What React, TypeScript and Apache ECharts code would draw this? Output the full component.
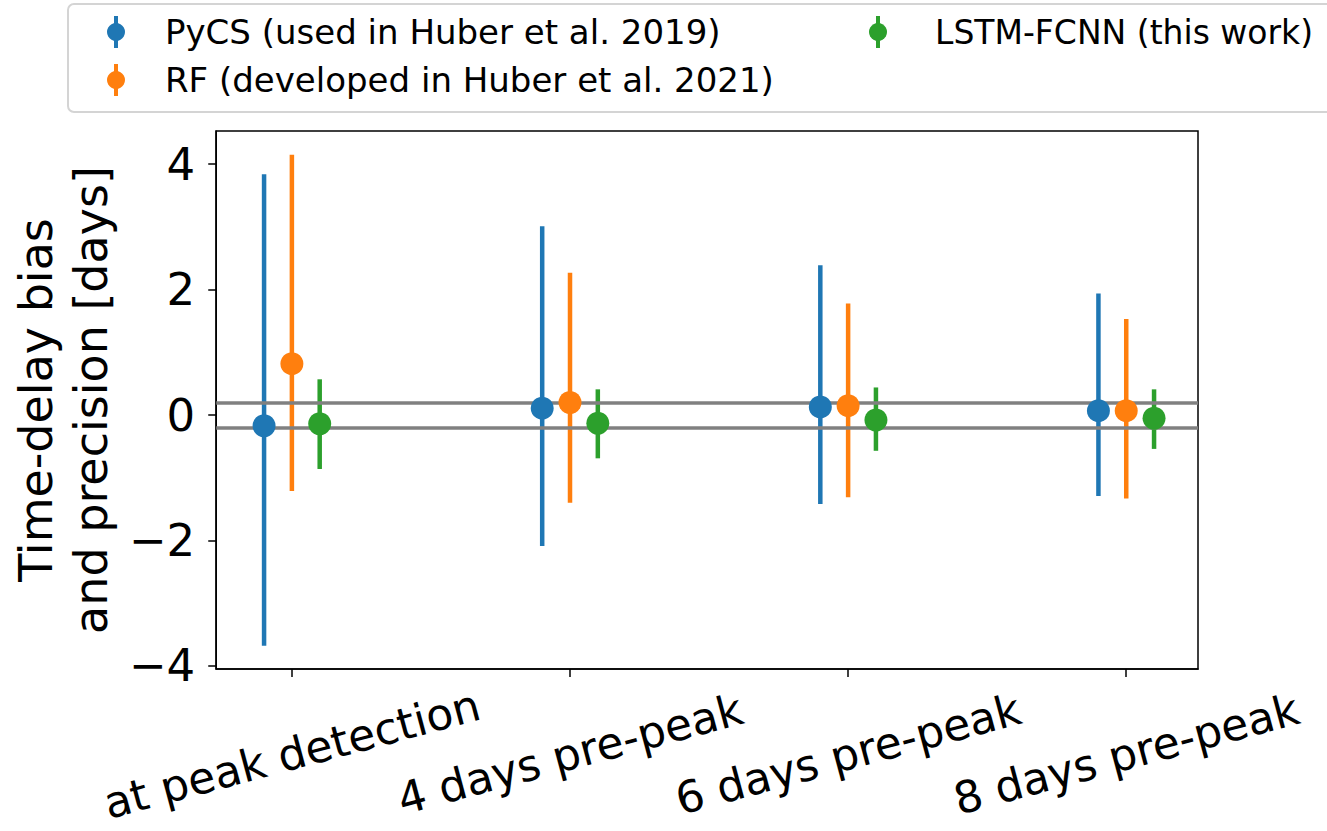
import React, { useEffect, useRef } from "react";
import * as echarts from "echarts";

const categories = ["at peak detection", "4 days pre-peak", "6 days pre-peak", "8 days pre-peak"];
const categoryPositions = [0, 1, 2, 3];

const pycsCenter = [-0.17, 0.11, 0.13, 0.07];
const pycsLow = [-3.68, -2.09, -1.42, -1.29];
const pycsHigh = [3.84, 3.01, 2.39, 1.94];

const rfCenter = [0.82, 0.2, 0.15, 0.07];
const rfLow = [-1.21, -1.4, -1.31, -1.33];
const rfHigh = [4.15, 2.27, 1.78, 1.53];

const lstmCenter = [-0.14, -0.13, -0.08, -0.05];
const lstmLow = [-0.86, -0.69, -0.57, -0.54];
const lstmHigh = [0.57, 0.41, 0.44, 0.41];

const methodNames = [
  "PyCS (used in Huber et al. 2019)",
  "RF (developed in Huber et al. 2021)",
  "LSTM-FCNN (this work)",
];
const methodColors = ["#1f77b4", "#ff7f0e", "#2ca02c"];
const methodOffsets = [-0.1, 0, 0.1];

const refLines = [0.2, -0.2];
const yTicks = [-4, -2, 0, 2, 4];

const FONT = "DejaVu Sans";

export default function App() {
  const ref = useRef<HTMLDivElement>(null);

  useEffect(() => {
    if (!ref.current) return;
    const chart = echarts.init(ref.current, null, { renderer: "svg" });

    const centers = [pycsCenter, rfCenter, lstmCenter];
    const lows = [pycsLow, rfLow, lstmLow];
    const highs = [pycsHigh, rfHigh, lstmHigh];

    const series: any[] = [];
    methodNames.forEach((name, m) => {
      series.push({
        type: "custom",
        name: name + " error",
        z: 1,
        silent: true,
        data: categoryPositions.map((p, i) => [p + methodOffsets[m], lows[m][i], highs[m][i]]),
        encode: { x: 0, y: [1, 2] },
        renderItem: (params: any, api: any) => {
          const a = api.coord([api.value(0), api.value(1)]);
          const b = api.coord([api.value(0), api.value(2)]);
          return {
            type: "line",
            shape: { x1: a[0], y1: a[1], x2: b[0], y2: b[1] },
            style: { stroke: methodColors[m], lineWidth: 4.5 },
          };
        },
      });
    });

    series.push({
      type: "scatter",
      name: "reference",
      data: [],
      z: 5,
      markLine: {
        silent: true,
        symbol: "none",
        z: 5,
        label: { show: false },
        lineStyle: { color: "#808080", width: 3.5, type: "solid" },
        data: refLines.map((v) => ({ yAxis: v })),
      },
    });

    methodNames.forEach((name, m) => {
      series.push({
        type: "scatter",
        name,
        z: 10,
        symbol: "circle",
        symbolSize: 23,
        itemStyle: { color: methodColors[m], opacity: 1 },
        data: categoryPositions.map((p, i) => [p + methodOffsets[m], centers[m][i]]),
      });
    });

    const legendGraphics: any[] = [
      {
        type: "rect",
        shape: { x: 68, y: 4, width: 1300, height: 108, r: 6 },
        style: { fill: "#ffffff", stroke: "#d4d4d4", lineWidth: 2 },
        z: 100,
      },
    ];
    const legendPos = [
      [116, 32, 165, 34],
      [116, 80, 165, 34],
      [878, 32, 935, 33],
    ];
    methodNames.forEach((name, m) => {
      const [mx, my, tx, fs] = legendPos[m];
      legendGraphics.push(
        {
          type: "line",
          shape: { x1: mx, y1: my - 16, x2: mx, y2: my + 16 },
          style: { stroke: methodColors[m], lineWidth: 4 },
          z: 101,
        },
        {
          type: "circle",
          shape: { cx: mx, cy: my, r: 9 },
          style: { fill: methodColors[m] },
          z: 102,
        },
        {
          type: "text",
          x: tx,
          y: my,
          style: {
            text: name,
            font: `${fs}px "${FONT}"`,
            fill: "#000",
            align: "left",
            verticalAlign: "middle",
          },
          z: 102,
        }
      );
    });

    chart.setOption({
      animation: false,
      backgroundColor: "#ffffff",
      grid: {
        left: 213,
        right: 129,
        top: 131,
        bottom: 162,
        show: true,
        borderColor: "#000",
        borderWidth: 1.5,
        backgroundColor: "transparent",
      },
      xAxis: {
        type: "value",
        min: -0.272,
        max: 3.258,
        splitLine: { show: false },
        axisLine: { show: true, onZero: false, lineStyle: { color: "#000", width: 1.5 } },
        axisTick: {
          show: true,
          customValues: categoryPositions,
          length: 8,
          lineStyle: { color: "#000", width: 1.5 },
        },
        axisLabel: {
          customValues: categoryPositions,
          formatter: (v: number) => categories[Math.round(v)] ?? "",
          rotate: 15,
          align: "center",
          verticalAlign: "middle",
          margin: 85,
          fontSize: 44,
          lineHeight: 44,
          fontFamily: FONT,
          color: "#000",
        },
      },
      yAxis: {
        type: "value",
        min: -4.05,
        max: 4.53,
        splitLine: { show: false },
        axisLine: { show: true, onZero: false, lineStyle: { color: "#000", width: 1.5 } },
        axisTick: {
          show: true,
          customValues: yTicks,
          length: 8,
          lineStyle: { color: "#000", width: 1.5 },
        },
        axisLabel: {
          customValues: yTicks,
          formatter: (v: number) => (v < 0 ? "\u2212" + Math.abs(v) : String(v)),
          margin: 21,
          fontSize: 45,
          fontFamily: FONT,
          color: "#000",
        },
        name: "Time-delay bias\nand precision [days]",
        nameLocation: "middle",
        nameRotate: 90,
        nameGap: 149,
        nameTextStyle: {
          fontSize: 46,
          lineHeight: 55,
          fontFamily: FONT,
          color: "#000",
          align: "center",
          verticalAlign: "middle",
        },
      },
      graphic: legendGraphics,
      series,
    });

    return () => chart.dispose();
  }, []);

  return (
    <div
      ref={ref}
      style={{ position: "fixed", left: 0, top: 0, width: 1327, height: 831, background: "#fff" }}
    />
  );
}
